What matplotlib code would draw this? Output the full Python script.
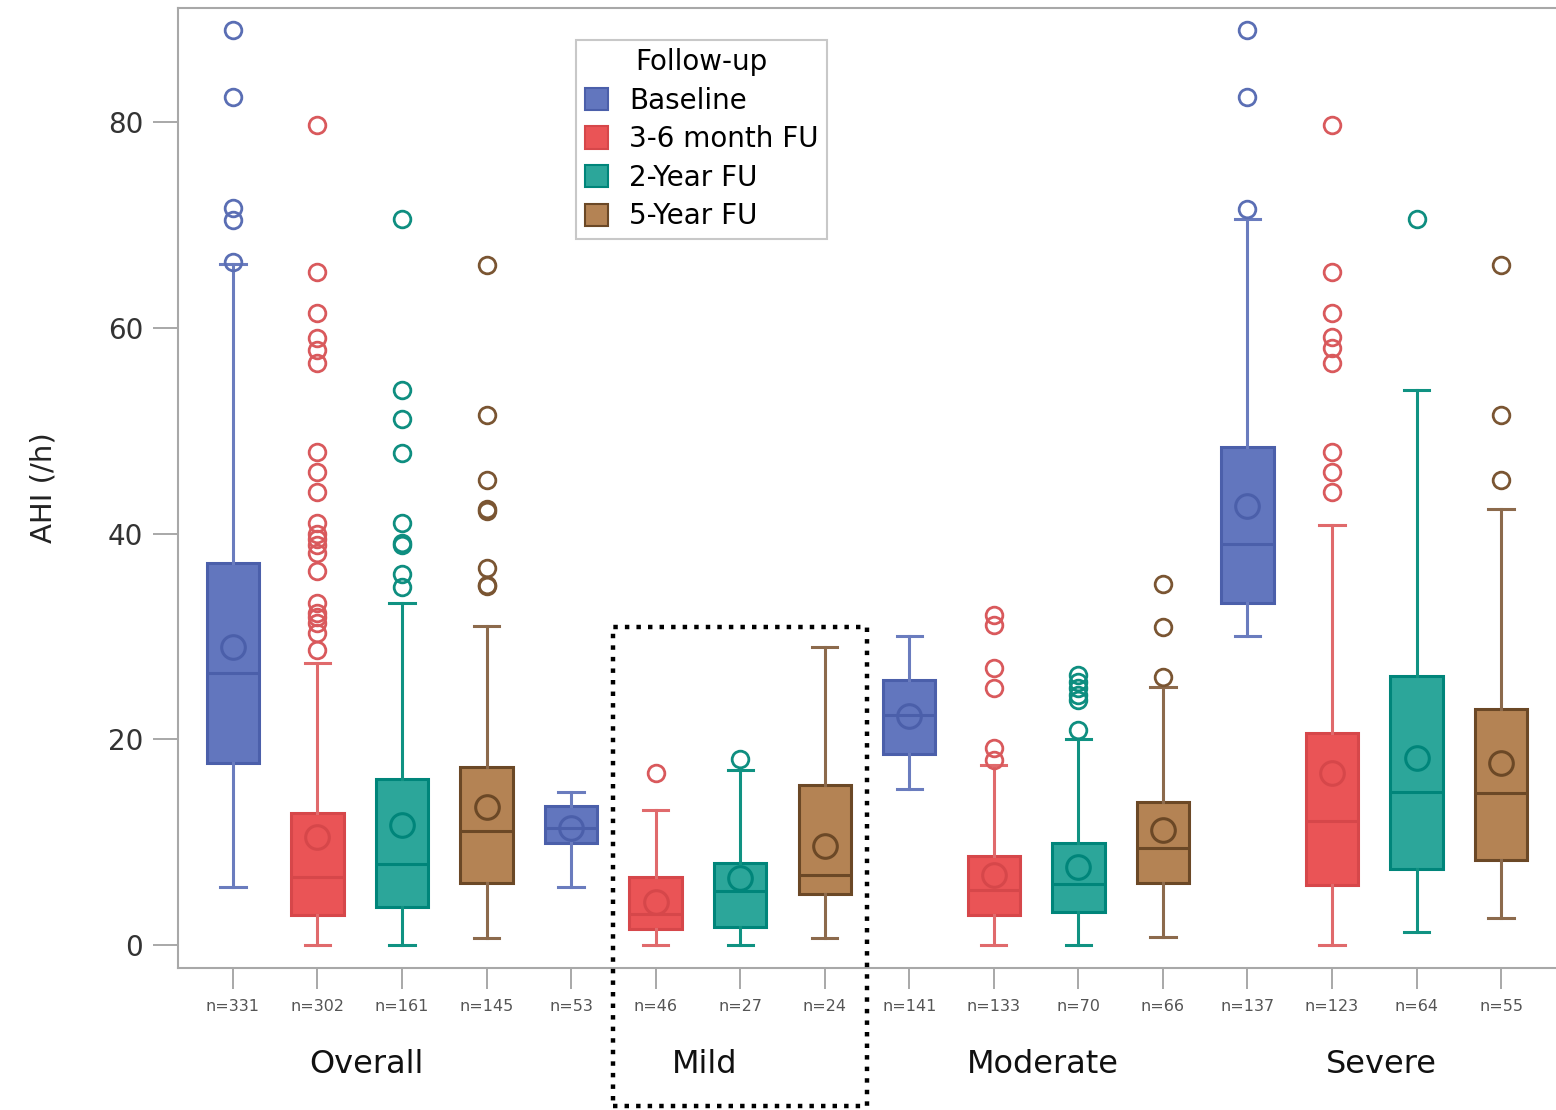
import matplotlib
matplotlib.use("Agg")
import matplotlib.pyplot as plt
from matplotlib.patches import Patch, Rectangle
import matplotlib.transforms as mtransforms

plt.rcParams["font.family"] = ["DejaVu Sans"]

# ---- data ----
groups = ["Overall", "Mild", "Moderate", "Severe"]
followups = ["Baseline", "3-6 month FU", "2-Year FU", "5-Year FU"]

# order: Overall x4, Mild x4, Moderate x4, Severe x4
n_labels = ["n=331", "n=302", "n=161", "n=145",
            "n=53", "n=46", "n=27", "n=24",
            "n=141", "n=133", "n=70", "n=66",
            "n=137", "n=123", "n=64", "n=55"]
series_idx = [0, 1, 2, 3] * 4

q1 = [17.7, 2.9, 3.7, 6.0, 9.9, 1.5, 1.7, 4.9, 18.6, 2.9, 3.2, 6.0, 33.2, 5.8, 7.4, 8.3]
med = [26.4, 6.6, 7.9, 11.1, 11.4, 3.0, 5.2, 6.8, 22.4, 5.3, 5.9, 9.4, 39.0, 12.0, 14.9, 14.8]
q3 = [37.1, 12.8, 16.1, 17.3, 13.5, 6.6, 8.0, 15.5, 25.8, 8.6, 9.9, 13.9, 48.4, 20.6, 26.1, 22.9]
mean = [29.0, 10.5, 11.7, 13.4, 11.4, 4.2, 6.5, 9.6, 22.3, 6.8, 7.6, 11.2, 42.7, 16.7, 18.2, 17.7]
whis_lo = [5.6, 0.0, 0.0, 0.7, 5.6, 0.0, 0.0, 0.7, 15.2, 0.0, 0.0, 0.8, 30.0, 0.0, 1.3, 2.6]
whis_hi = [66.2, 27.4, 33.2, 31.0, 14.9, 13.1, 17.0, 29.0, 30.0, 17.5, 20.0, 25.1, 70.6, 40.8, 54.0, 42.4]
fliers = [
    [89.0, 82.4, 71.7, 70.5, 66.4],
    [79.7, 65.4, 61.4, 59.0, 57.8, 56.6, 47.9, 46.0, 44.0, 41.0, 40.0, 39.5, 38.9,
     38.1, 36.4, 33.2, 32.3, 31.9, 31.3, 30.3, 28.7],
    [70.6, 54.0, 51.1, 47.8, 41.0, 39.1, 38.9, 36.1, 34.8],
    [66.1, 51.5, 45.2, 42.4, 42.2, 36.6, 35.0, 34.9],
    [],
    [16.7],
    [18.1],
    [],
    [],
    [32.1, 31.1, 26.9, 25.0, 19.1, 18.0],
    [26.2, 25.6, 25.0, 24.3, 23.8, 20.9],
    [35.1, 30.9, 26.0],
    [89.0, 82.4, 71.6],
    [79.7, 65.4, 61.4, 59.1, 58.0, 56.6, 47.9, 46.0, 44.0],
    [70.6],
    [66.1, 51.5, 45.2],
]

fill_colors = ["#6276BE", "#EA5456", "#2CA69A", "#B48354"]
edge_colors = ["#4B5FAA", "#D6474A", "#00857A", "#6B4826"]
whisker_colors = ["#6A7CBE", "#E06A6C", "#109282", "#8C6A4C"]
flier_colors = ["#5A6EB4", "#D9595C", "#0E8E80", "#7A5532"]

fig = plt.figure(figsize=(15.56, 11.10), dpi=100)
ax = fig.add_axes([0.1144, 0.1279, 0.8856, 0.8649])

positions = list(range(1, len(n_labels) + 1))
for i, pos in enumerate(positions):
    s = series_idx[i]
    stats = [dict(q1=q1[i], med=med[i], q3=q3[i], mean=mean[i],
                  whislo=whis_lo[i], whishi=whis_hi[i], fliers=fliers[i])]
    ax.bxp(stats, positions=[pos], widths=0.62, capwidths=0.3,
           patch_artist=True, showmeans=True,
           boxprops=dict(facecolor=fill_colors[s], edgecolor=edge_colors[s], linewidth=2.2),
           medianprops=dict(color=edge_colors[s], linewidth=2.2),
           whiskerprops=dict(color=whisker_colors[s], linewidth=2.2),
           capprops=dict(color=whisker_colors[s], linewidth=2.2),
           meanprops=dict(marker="o", markerfacecolor="none",
                          markeredgecolor=edge_colors[s], markersize=17, markeredgewidth=2.2),
           flierprops=dict(marker="o", markerfacecolor="none",
                           markeredgecolor=flier_colors[s], markersize=12, markeredgewidth=2.0))

ax.set_xlim(0.35, 16.65)
ax.set_ylim(-2.25, 91.1)
ax.set_yticks([0, 20, 40, 60, 80])
ax.set_xticks(positions)
ax.set_xticklabels(n_labels, fontsize=11.5, color="#555555")
ax.tick_params(axis="y", labelsize=20, length=18, width=1.2, color="#999999",
               labelcolor="#333333", pad=7)
ax.tick_params(axis="x", length=15, width=1.2, color="#999999", pad=7)
ax.set_ylabel("AHI (/h)", fontsize=21, color="#222222", labelpad=36)

for side in ["left", "top", "bottom"]:
    ax.spines[side].set_color("#A8A8A8")
    ax.spines[side].set_linewidth(1.5)
ax.spines["right"].set_visible(False)

# group labels under the n= labels
trans = mtransforms.blended_transform_factory(ax.transData, ax.transAxes)
for g, name in enumerate(groups):
    center = sum(positions[g * 4:(g + 1) * 4]) / 4 + 0.08
    ax.text(center, -0.1, name, transform=trans, ha="center", va="center",
            fontsize=23, color="#111111")

# dotted highlight around the Mild group
ax.add_patch(Rectangle((5.5, -15.7), 3.0, 46.6, fill=False, linestyle=(0, (1, 1.6)),
                       linewidth=3.2, edgecolor="black", clip_on=False, zorder=5))

handles = [Patch(facecolor=fill_colors[k], edgecolor=edge_colors[k], linewidth=1.5)
           for k in range(4)]
leg = ax.legend(handles, followups, title="Follow-up", loc="upper left",
                bbox_to_anchor=(0.289, 0.967), borderaxespad=0, fontsize=20,
                title_fontsize=20, frameon=True, fancybox=False, edgecolor="#BBBBBB",
                handlelength=0.85, handleheight=0.85, handletextpad=0.75,
                labelspacing=0.38, borderpad=0.3)
leg.get_frame().set_linewidth(1.5)

fig.savefig("out.png", dpi=100)
